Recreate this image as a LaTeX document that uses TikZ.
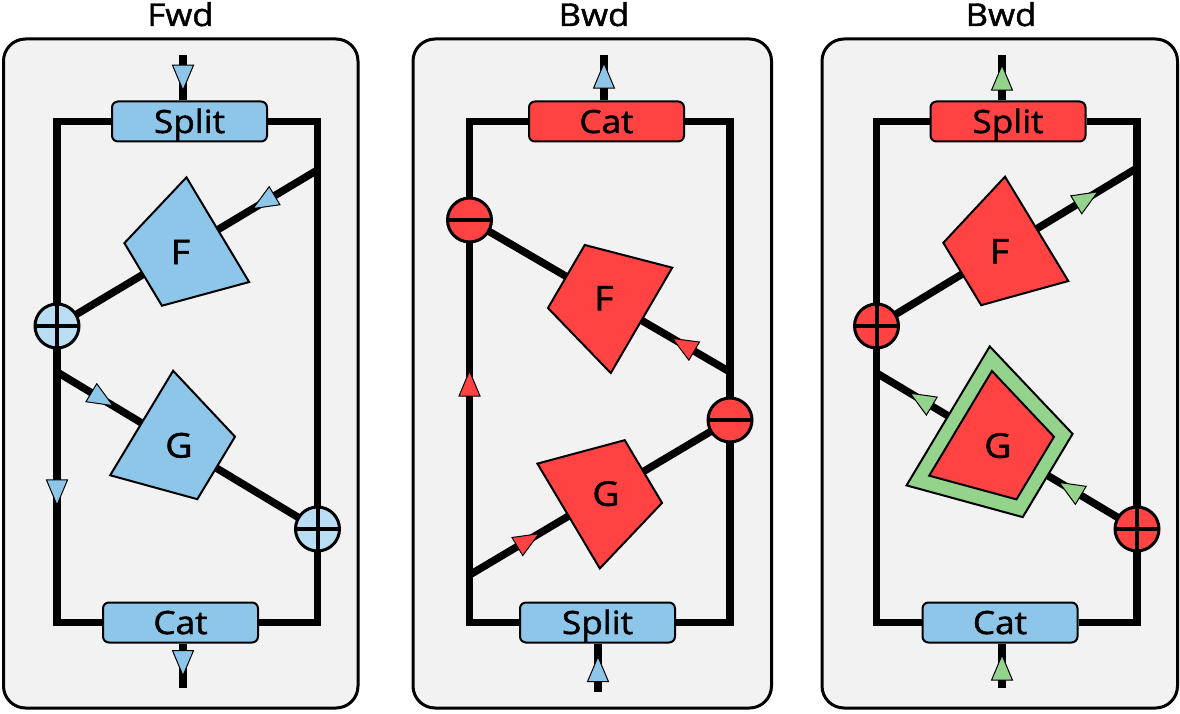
\documentclass[tikz,border=0pt]{standalone}
\usepackage{fontspec}
\setmainfont{Open Sans}[FakeStretch=1.1, FakeBold=1.5]
\usetikzlibrary{decorations.markings,calc}
\definecolor{cblue}{HTML}{8EC6E9}
\definecolor{clblue}{HTML}{B9DDF3}
\definecolor{cred}{HTML}{FF4343}
\definecolor{cgreen}{HTML}{94D38C}
\definecolor{cgray}{HTML}{F2F2F2}
\pgfdeclarelayer{back}
\pgfdeclarelayer{wires}
\pgfsetlayers{back,wires,main}
\tikzset{
  panel/.style={draw=black, line width=3pt, fill=cgray, rounded corners=22pt},
  wire/.style={draw=black, line width=7.5pt, line join=miter},
  blk/.style={draw=black, line width=2pt, rounded corners=6pt, minimum width=155pt,
    minimum height=40pt, inner sep=0pt, text height=23pt, text depth=0pt,
    font=\fontsize{32}{36}\selectfont},
  ttl/.style={inner sep=0pt, font=\fontsize{31.5}{36}\selectfont},
  lab/.style={inner sep=0pt, text height=24pt, text depth=0pt, font=\fontsize{34}{38}\selectfont},
  trapline/.style={draw=black, line width=2pt, line join=miter},
  tri/.style={draw=black, line width=1pt, line join=miter},
  sumc/.style={circle, draw=black, line width=3pt, minimum size=44pt, inner sep=0pt,
    path picture={\draw[line width=4pt] (path picture bounding box.north) -- (path picture bounding box.south)
      (path picture bounding box.west) -- (path picture bounding box.east);}},
  subc/.style={circle, draw=black, line width=3pt, minimum size=44pt, inner sep=0pt,
    path picture={\draw[line width=4pt] (path picture bounding box.west) -- (path picture bounding box.east);}},
  arr/.style 2 args={postaction={decorate, decoration={markings,
    mark=at position #1 with {\draw[tri, fill=#2] (12.5,0) -- (-12.5,10.5) -- (-12.5,-10.5) -- cycle;}}}},
  trapS/.style n args={4}{postaction={decorate, decoration={markings,
    mark=at position #1 with {\draw[trapline, fill=#2] (-43.5,61) -- (-43.5,-61) -- (43.5,-36.5) -- (43.5,36.5) -- cycle;
      \node[lab] (#3) {#4};}}}},
  trapE/.style n args={4}{postaction={decorate, decoration={markings,
    mark=at position #1 with {\draw[trapline, fill=#2] (43.5,61) -- (43.5,-61) -- (-43.5,-36.5) -- (-43.5,36.5) -- cycle;
      \node[lab] (#3) {#4};}}}},
  trapEG/.style n args={4}{postaction={decorate, decoration={markings,
    mark=at position #1 with {\draw[trapline, fill=cgreen] (58,81) -- (58,-81) -- (-58,-48.5) -- (-58,48.5) -- cycle;
      \draw[trapline, fill=#2] (43.5,61) -- (43.5,-61) -- (-43.5,-36.5) -- (-43.5,36.5) -- cycle;
      \node[lab] (#3) {#4};}}}},
}
\begin{document}
\begin{tikzpicture}[x=1pt,y=-1pt]
\useasboundingbox (0,0) rectangle (1180,714);
\begin{pgfonlayer}{back}
\draw[panel] (3.5,39) rectangle (358,708);
\draw[panel] (413,39) rectangle (771.5,708);
\draw[panel] (822,39) rectangle (1177.5,708);
\end{pgfonlayer}
% titles
\node[ttl, anchor=base] (t1) at (180.5,26) {Fwd};
\node[ttl, anchor=base] (t2) at (594,26) {Bwd};
\node[ttl, anchor=base] (t3) at (1001,26) {Bwd};

% ---------------- panel 1 : Fwd
\node[blk, fill=cblue] (s1) at (189.5,121.5) {Split};
\node[blk, fill=cblue] (k1) at (180.5,622.5) {Cat};
\node[sumc, fill=clblue] (a1) at (57,326) {};
\node[sumc, fill=clblue] (b1) at (317.5,529) {};
\coordinate (l1t) at (57,121.5); \coordinate (l1b) at (57,622.5);
\coordinate (r1t) at (317.5,121.5); \coordinate (r1b) at (317.5,622.5);
\coordinate (f1a) at (317.5,170); \coordinate (g1a) at (57,372);
\coordinate (i1) at (183,55); \coordinate (o1) at (183,688);
\begin{pgfonlayer}{wires}
\draw[wire] (s1.west) -- (l1t) -- (l1b) -- (k1.west);
\draw[wire] (s1.east) -- (r1t) -- (r1b) -- (k1.east);
\path[arr={0.7405}{cblue}] (l1t) -- (l1b);
\draw[wire, trapS={0.526}{cblue}{F1}{F}, arr={0.206}{cblue}] (f1a) -- (a1.center);
\draw[wire, trapS={0.468}{cblue}{G1}{G}, arr={0.173}{cblue}] (g1a) -- (b1.center);
\draw[wire, arr={0.5}{cblue}] (i1) -- (i1 |- s1.north);
\draw[wire, arr={0.44}{cblue}] (o1 |- k1.south) -- (o1);
\end{pgfonlayer}

% ---------------- panel 2 : Bwd
\node[blk, fill=cred] (k2) at (606.5,121.5) {Cat};
\node[blk, fill=cblue] (s2) at (597.5,622.5) {Split};
\node[subc, fill=cred] (a2) at (469.5,220) {};
\node[subc, fill=cred] (b2) at (730,420) {};
\coordinate (l2t) at (469.5,121.5); \coordinate (l2b) at (469.5,622.5);
\coordinate (r2t) at (730,121.5); \coordinate (r2b) at (730,622.5);
\coordinate (f2a) at (730,372); \coordinate (g2a) at (469.5,575);
\coordinate (o2) at (604,55); \coordinate (i2) at (598,692);
\begin{pgfonlayer}{wires}
\draw[wire] (s2.west) -- (l2b) -- (l2t) -- (k2.west);
\draw[wire] (s2.east) -- (r2b) -- (r2t) -- (k2.east);
\path[arr={0.477}{cred}] (l2b) -- (l2t);
\draw[wire, trapS={0.484}{cred}{F2}{F}, arr={0.179}{cred}] (f2a) -- (a2.center);
\draw[wire, trapS={0.524}{cred}{G2}{G}, arr={0.225}{cred}] (g2a) -- (b2.center);
\draw[wire, arr={0.544}{cblue}] (o2 |- k2.north) -- (o2);
\draw[wire, arr={0.47}{cblue}] (i2) -- (i2 |- s2.south);
\end{pgfonlayer}

% ---------------- panel 3 : Bwd
\node[blk, fill=cred] (s3) at (1008,121.5) {Split};
\node[blk, fill=cblue] (k3) at (1000,622.5) {Cat};
\node[sumc, fill=cred] (a3) at (876.5,326) {};
\node[sumc, fill=cred] (b3) at (1137,529) {};
\coordinate (l3t) at (876.5,121.5); \coordinate (l3b) at (876.5,622.5);
\coordinate (r3t) at (1137,121.5); \coordinate (r3b) at (1137,622.5);
\coordinate (f3b) at (1137,168); \coordinate (g3b) at (876.5,373);
\coordinate (o3) at (1002,55); \coordinate (i3) at (1002,688);
\begin{pgfonlayer}{wires}
\draw[wire] (s3.west) -- (l3t) -- (l3b) -- (k3.west);
\draw[wire] (s3.east) -- (r3t) -- (r3b) -- (k3.east);
\draw[wire, trapE={0.472}{cred}{F3}{F}, arr={0.808}{cgreen}] (a3.center) -- (f3b);
\draw[wire, trapEG={0.534}{cred}{G3}{G}, arr={0.257}{cgreen}, arr={0.829}{cgreen}] (b3.center) -- (g3b);
\draw[wire, arr={0.5}{cgreen}] (o3 |- s3.north) -- (o3);
\draw[wire, arr={0.456}{cgreen}] (i3) -- (i3 |- k3.south);
\end{pgfonlayer}
\end{tikzpicture}
\end{document}
